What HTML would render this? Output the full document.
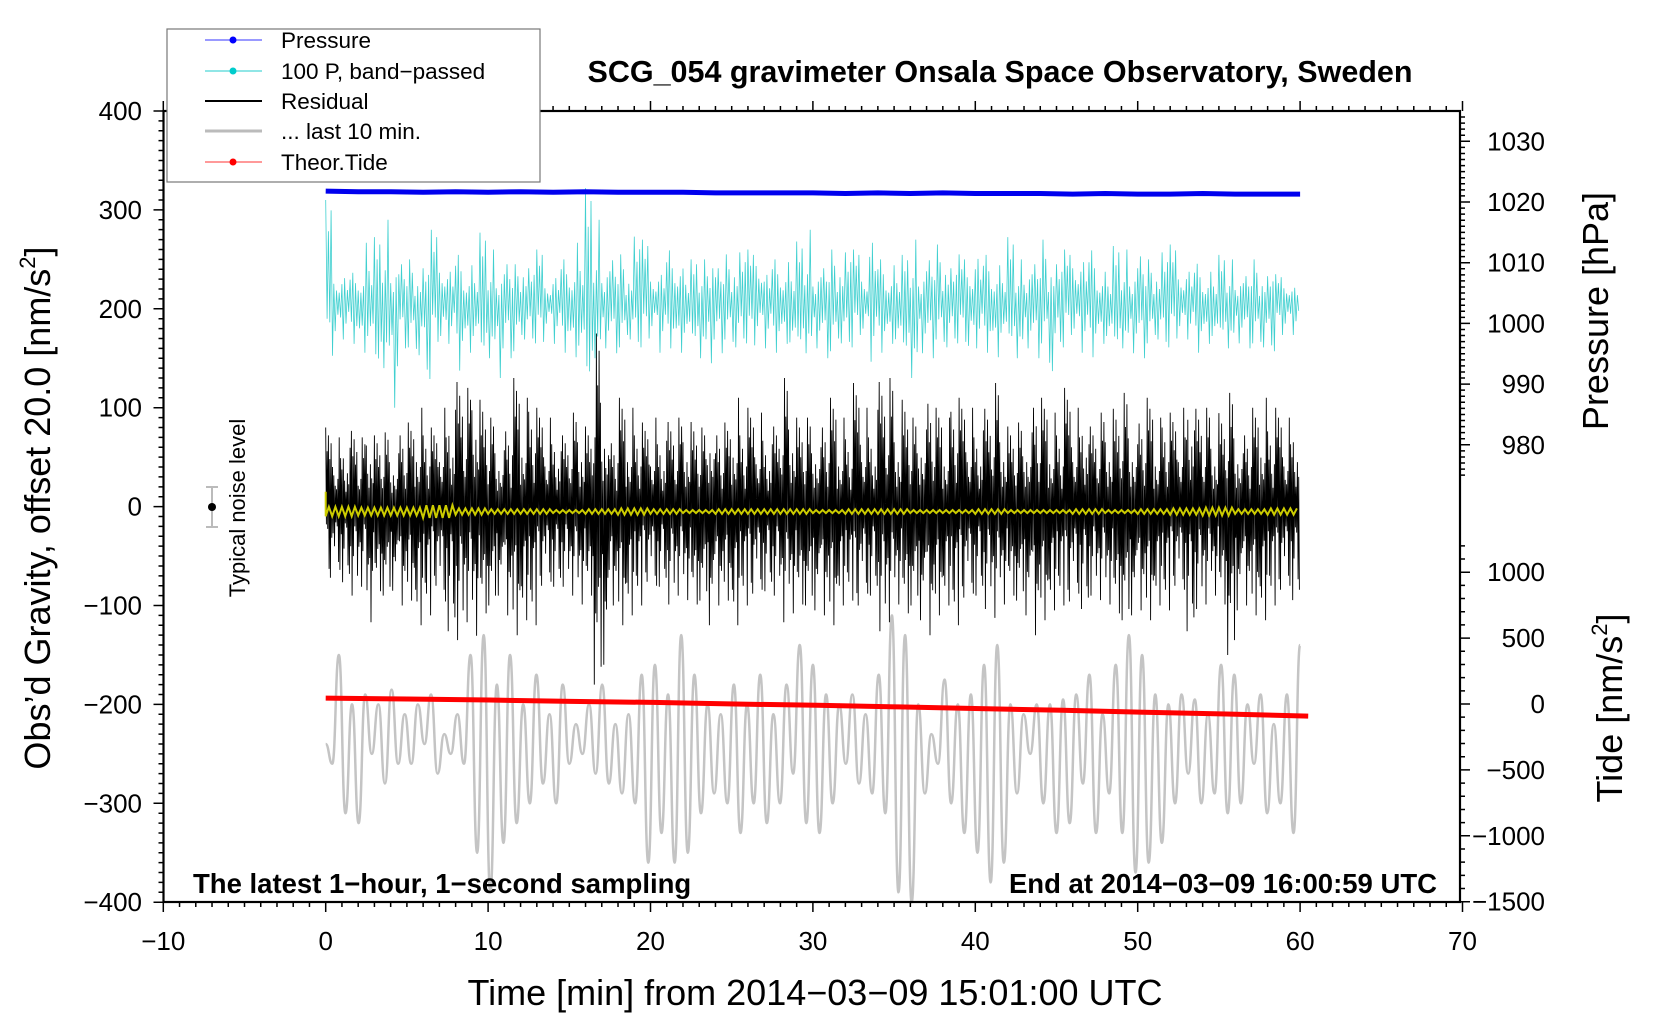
<!DOCTYPE html>
<html><head><meta charset="utf-8">
<style>
html,body{margin:0;padding:0;background:#fff;}
svg{display:block;font-family:"Liberation Sans",Arial,sans-serif;}
</style></head>
<body>
<svg id="chart" width="1660" height="1020" viewBox="0 0 1660 1020" xmlns="http://www.w3.org/2000/svg">
<rect width="1660" height="1020" fill="#fff"/>
<g id="series"></g>
<g id="axes"></g>
<text x="1000" y="82" font-size="30.5" font-weight="bold" text-anchor="middle">SCG_054 gravimeter Onsala Space Observatory, Sweden</text>
<text transform="translate(50,508) rotate(-90)" font-size="36" text-anchor="middle">Obs’d Gravity, offset 20.0 [nm/s<tspan font-size="22" dy="-15">2</tspan><tspan dy="15">]</tspan></text>
<text x="815" y="1005" font-size="36" text-anchor="middle">Time [min] from 2014−03−09 15:01:00 UTC</text>
<text transform="translate(1608,311) rotate(-90)" font-size="36" text-anchor="middle">Pressure [hPa]</text>
<text transform="translate(1622,708) rotate(-90)" font-size="36" text-anchor="middle">Tide [nm/s<tspan font-size="22" dy="-15">2</tspan><tspan dy="15">]</tspan></text>
<text x="193" y="893" font-size="27.5" font-weight="bold">The latest 1−hour, 1−second sampling</text>
<text x="1437" y="893" font-size="27.5" font-weight="bold" text-anchor="end">End at 2014−03−09 16:00:59 UTC</text>
<g>
<line x1="212" y1="487" x2="212" y2="527" stroke="#bbb" stroke-width="2"/>
<line x1="206" y1="487" x2="218" y2="487" stroke="#bbb" stroke-width="2"/>
<line x1="206" y1="527" x2="218" y2="527" stroke="#bbb" stroke-width="2"/>
<circle cx="212" cy="507" r="4" fill="#000"/>
<text transform="translate(245,508) rotate(-90)" font-size="22" text-anchor="middle">Typical noise level</text>
</g>
<g>
<rect x="167" y="29" width="373" height="153" fill="#fff" stroke="#777" stroke-width="1.2"/>
<g><line x1="205" y1="40" x2="262" y2="40" stroke="#33f" stroke-width="1"/><circle cx="233" cy="40" r="3.5" fill="#00f"/><text x="281" y="48" font-size="22.5">Pressure</text></g>
<g><line x1="205" y1="71" x2="262" y2="71" stroke="#2cc" stroke-width="1"/><circle cx="233" cy="71" r="3.5" fill="#0cc"/><text x="281" y="79" font-size="22.5">100 P, band−passed</text></g>
<g><line x1="205" y1="101" x2="262" y2="101" stroke="#000" stroke-width="2"/><text x="281" y="109" font-size="22.5">Residual</text></g>
<g><line x1="205" y1="131" x2="262" y2="131" stroke="#bbb" stroke-width="3"/><text x="281" y="139" font-size="22.5">... last 10 min.</text></g>
<g><line x1="205" y1="162" x2="262" y2="162" stroke="#f33" stroke-width="1"/><circle cx="233" cy="162" r="3.5" fill="#f00"/><text x="281" y="170" font-size="22.5">Theor.Tide</text></g>
</g>
</svg>
<script>
// ---- data ----
const xTicks = [-10,0,10,20,30,40,50,60,70];
const yTicks = [400,300,200,100,0,-100,-200,-300,-400];
const pTicks = [1030,1020,1010,1000,990,980];
const tideTicks = [1000,500,0,-500,-1000,-1500];
// residual envelope per 0.5-minute bin (nm/s^2)
const residualHi = [80,70,75,85,70,95,80,75,70,90,85,100,90,80,100,110,140,120,150,120,90,80,95,130,110,120,100,90,85,80,95,100,90,175,130,80,110,100,90,85,90,80,95,90,100,95,80,120,90,85,110,90,100,95,80,90,130,120,100,90,95,100,110,90,85,125,100,90,140,130,100,120,90,110,130,100,90,120,110,100,90,110,125,100,90,85,100,125,110,95,90,120,100,110,90,95,100,110,115,100,105,110,90,100,95,100,135,110,100,90,105,115,95,90,100,110,95,100,90,100];
const residualLo = [-90,-80,-85,-100,-90,-130,-95,-90,-85,-100,-95,-120,-110,-100,-120,-140,-150,-130,-145,-120,-100,-90,-110,-130,-115,-120,-100,-95,-90,-90,-100,-110,-100,-180,-160,-100,-120,-110,-100,-95,-100,-90,-110,-100,-105,-110,-95,-120,-100,-95,-120,-100,-110,-105,-95,-100,-130,-120,-110,-100,-105,-110,-120,-100,-95,-125,-110,-100,-140,-130,-110,-120,-100,-115,-130,-110,-100,-120,-115,-110,-100,-115,-125,-110,-100,-95,-110,-130,-115,-105,-100,-120,-110,-115,-100,-105,-110,-120,-115,-110,-105,-115,-100,-105,-100,-105,-140,-115,-110,-100,-110,-150,-105,-100,-110,-115,-100,-105,-100,-105];
// band-passed pressure (x100) envelope per 0.5-minute bin
const cyanHi = [310,250,245,240,250,300,280,290,265,255,250,245,250,280,275,255,260,250,265,285,260,250,255,245,265,250,260,240,245,255,260,300,335,290,265,260,255,250,290,270,255,250,265,275,260,255,250,285,250,255,265,270,260,290,250,255,260,270,275,280,255,250,260,265,270,260,255,300,255,250,265,260,270,255,260,265,270,250,255,265,275,260,255,265,280,250,260,255,270,265,255,260,285,270,265,250,255,270,260,255,265,250,255,270,265,260,255,250,245,255,260,250,245,240,250,245,240,235,240,230];
const cyanLo = [130,150,165,160,150,155,120,140,100,160,150,140,110,150,140,160,130,150,155,140,150,130,150,145,160,155,150,165,160,150,145,140,100,150,160,155,150,160,150,155,160,150,155,150,160,155,150,145,155,160,150,155,145,160,155,150,160,145,150,155,160,150,145,155,150,160,155,140,150,160,150,140,130,155,150,160,150,155,150,120,155,150,145,160,155,150,160,150,155,120,150,160,155,150,145,160,155,150,160,155,150,155,160,150,155,160,165,150,160,155,165,160,165,160,155,150,145,160,165,170];
// pressure every 2 minutes (hPa)
const pressure = [1021.8,1021.7,1021.7,1021.6,1021.7,1021.6,1021.7,1021.6,1021.7,1021.6,1021.6,1021.6,1021.5,1021.5,1021.5,1021.5,1021.4,1021.5,1021.4,1021.5,1021.4,1021.4,1021.4,1021.3,1021.4,1021.3,1021.3,1021.4,1021.3,1021.3,1021.3];
// theoretical tide every 5 minutes (nm/s^2)
const tide = [45,38,30,20,12,0,-10,-22,-35,-48,-62,-76,-92];
const tideEnd = 60.5;
// filtered residual amplitude per 2 minutes
const yellowAmp = [6,5,5,8,4,3,3,2,3,4,3,2,3,3,3,2,3,3,2,2,3,2,2,3,2,3,4,5,3,4,3];
// last-10-min grey trace extremes (alternating max/min), left-axis units
const greyExt = [-240,-260,-150,-310,-200,-320,-190,-250,-200,-280,-185,-260,-210,-260,-200,-240,-190,-270,-230,-250,-210,-260,-150,-350,-130,-390,-180,-340,-150,-320,-200,-300,-170,-280,-210,-300,-180,-260,-220,-250,-200,-270,-180,-280,-220,-290,-210,-300,-170,-360,-160,-330,-190,-360,-130,-350,-170,-310,-200,-290,-210,-300,-180,-330,-200,-300,-170,-320,-210,-300,-180,-270,-140,-320,-160,-330,-190,-300,-200,-260,-190,-280,-210,-290,-170,-310,-110,-390,-130,-400,-200,-290,-230,-260,-175,-300,-200,-330,-190,-350,-160,-380,-140,-360,-200,-290,-210,-250,-200,-300,-200,-330,-195,-320,-190,-280,-170,-330,-210,-290,-160,-330,-130,-370,-150,-360,-190,-340,-200,-300,-190,-270,-195,-300,-210,-290,-160,-310,-170,-300,-200,-260,-190,-310,-220,-300,-190,-330,-140];

// ---- scales ----
const X = t => 325.7 + t*16.24;
const Y = g => 506.6 - g*0.989;
const P = p => 202 - (p-1020)*6.07;
const T = v => 704 - v*0.1318;
const zig = [1,0.35,0.7,0.2,0.9,0.45,0.6,0.3,0.8,0.25,0.5,0.4,0.65];
const NS='http://www.w3.org/2000/svg';
const series=document.getElementById('series');
const axes=document.getElementById('axes');
function mk(tag,attrs,parent){const e=document.createElementNS(NS,tag);for(const k in attrs)e.setAttribute(k,attrs[k]);parent.appendChild(e);return e;}

// grey trace (smooth through extremes)
{
  const n=greyExt.length;
  const pts=greyExt.map((v,i)=>[X(i*60/(n-1)),Y(v)]);
  let d='M'+pts[0][0]+','+pts[0][1];
  for(let i=1;i<n;i++){const a=pts[i-1],b=pts[i];const mx=(a[0]+b[0])/2;d+=` C${mx},${a[1]} ${mx},${b[1]} ${b[0]},${b[1]}`;}
  const p=mk('path',{d:d,fill:'none',stroke:'#c4c4c4','stroke-width':2.5},series);
  
  
}
function zigPath(hi,lo,center,k){
  const n=Math.min(hi.length,lo.length); const bw=60/n; let d='';
  for(let i=0;i<n;i++){for(let j=0;j<k;j++){
    const t=(i+j/k)*bw; const up=j%2===0;
    const v= up? center+(hi[i]-center)*zig[(i*5+j)%zig.length] : center+(lo[i]-center)*zig[(i*7+j*3)%zig.length];
    d+=(d?'L':'M')+X(t).toFixed(1)+','+Y(v).toFixed(1);
  }}
  return d;
}
{
  const p=mk('path',{d:zigPath(residualHi,residualLo,0,12),fill:'none',stroke:'#000','stroke-width':0.9},series);
  
  
}
{
  const p=mk('path',{d:zigPath(cyanHi,cyanLo,205,6),fill:'none',stroke:'#40d0d0','stroke-width':0.8},series);
  
  
}
// yellow filtered
{
  const n=yellowAmp.length; let d='M'+X(0)+','+Y(15);
  for(let i=0;i<n-1;i++){for(let j=0;j<10;j++){const t=(i+j/10)*2; const v=-5+yellowAmp[i]*(j%2?0.8:-0.8);d+='L'+X(t).toFixed(1)+','+Y(v).toFixed(1);}}
  const p=mk('path',{d:d,fill:'none',stroke:'#cccc00','stroke-width':2},series);
  
  
}
// pressure
{
  const n=pressure.length;
  const pts=pressure.map((v,i)=>X(i*60/(n-1)).toFixed(1)+','+P(v).toFixed(1)).join(' ');
  const p=mk('polyline',{points:pts,fill:'none',stroke:'#0000ee','stroke-width':5},series);
  
  
}
// tide
{
  const n=tide.length;
  const pts=tide.map((v,i)=>X(i*tideEnd/(n-1)).toFixed(1)+','+T(v).toFixed(1)).join(' ');
  const p=mk('polyline',{points:pts,fill:'none',stroke:'#ff0000','stroke-width':5},series);
  
  
}

// ---- axes ----
const L=163.5,R=1460,TOP=111,BOT=902;
{
  const f=mk('rect',{x:L,y:TOP,width:R-L,height:BOT-TOP,fill:'none',stroke:'#000','stroke-width':2.2},axes);
  
  
}
let tk='';
for(let t=-10;t<=70;t++){const x=X(t);const len=(t%10===0)?10:5;tk+=`M${x},${BOT}v${len}M${x},${TOP}v${-len}`;}
for(let g=-400;g<=400;g+=10){const y=Y(g);const len=(g%100===0)?10:5;tk+=`M${L},${y}h${-len}`;}
for(let p=975;p<=1034;p++){const y=P(p);const len=(p%10===0)?10:5;tk+=`M${R},${y}h${len}`;}
for(let v=-1500;v<=1300;v+=100){const y=T(v);if(y<540)continue;const len=(v%500===0)?10:5;tk+=`M${R},${y}h${len}`;}
{
  const p=mk('path',{d:tk,stroke:'#000','stroke-width':1.5,fill:'none'},axes);
  
  
}
xTicks.forEach(t=>{const e=mk('text',{x:X(t),y:950,'font-size':26,'text-anchor':'middle'},axes);e.textContent=(t<0?'−'+(-t):t);
  
  });
yTicks.forEach(g=>{const e=mk('text',{x:142,y:Y(g)+9,'font-size':26,'text-anchor':'end'},axes);e.textContent=(g<0?'−'+(-g):g);
  
  });
pTicks.forEach(p=>{const e=mk('text',{x:1545,y:P(p)+9,'font-size':26,'text-anchor':'end'},axes);e.textContent=p;
  
  });
tideTicks.forEach(v=>{const e=mk('text',{x:1545,y:T(v)+9,'font-size':26,'text-anchor':'end'},axes);e.textContent=(v<0?'−'+(-v):v);
  
  });
</script>
</body></html>
